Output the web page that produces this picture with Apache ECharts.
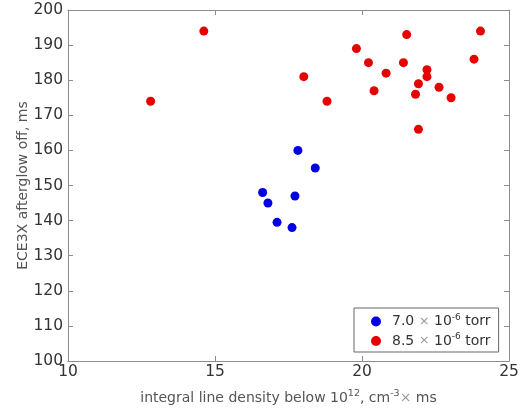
<!DOCTYPE html>
<html>
<head>
<meta charset="utf-8">
<script src="https://cdn.jsdelivr.net/npm/echarts@6/dist/echarts.min.js"></script>
<style>
html,body{margin:0;padding:0;background:#fff;}
#c{width:527px;height:411px;}
</style>
</head>
<body>
<div id="c"></div>
<script>
// Data
const seriesNames = ['7.0 × 10-6 torr', '8.5 × 10-6 torr'];
const blueX = [17.82, 18.41, 16.62, 16.80, 17.72, 17.11, 17.62];
const blueY = [160, 155, 148, 145, 147, 139.5, 138];
const redX = [12.81, 14.62, 18.02, 18.81, 19.81, 20.22, 20.41, 20.82, 21.41, 21.52, 21.82, 21.92, 21.92, 22.21, 22.21, 22.62, 23.03, 23.81, 24.03];
const redY = [174, 194, 181, 174, 189, 185, 177, 182, 185, 193, 176, 179, 166, 183, 181, 178, 175, 186, 194];
const xTicks = [10, 15, 20, 25];
const yTicks = [100, 110, 120, 130, 140, 150, 160, 170, 180, 190, 200];

const font = 'DejaVu Sans';
const axisCol = '#8c8c8c';
const labelCol = '#333333';

function pairs(xs, ys) { return xs.map((x, i) => [x, ys[i]]); }

const legendText = {
  '7.0 × 10-6 torr': '{p|}{n|7.0 }{t|×}{n| 10}{s|-6}{n| torr}',
  '8.5 × 10-6 torr': '{p|}{n|8.5 }{t|×}{n| 10}{s|-6}{n| torr}'
};

const chart = echarts.init(document.getElementById('c'), null, {renderer: 'canvas'});
const baseX = {
  type: 'value', min: xTicks[0], max: xTicks[xTicks.length - 1], interval: 5,
  axisLine: {show: true, onZero: false, lineStyle: {color: axisCol, width: 1}},
  axisTick: {show: true, inside: true, length: 5, lineStyle: {color: axisCol}},
  splitLine: {show: false}
};
const baseY = {
  type: 'value', min: yTicks[0], max: yTicks[yTicks.length - 1], interval: 10,
  axisLine: {show: true, onZero: false, lineStyle: {color: axisCol, width: 1}},
  axisTick: {show: true, inside: true, length: 5, lineStyle: {color: axisCol}},
  splitLine: {show: false}
};
chart.setOption({
  animation: false,
  backgroundColor: '#fff',
  grid: {left: 68, right: 18, top: 10, bottom: 50},
  legend: {
    left: 354, top: 308,
    orient: 'vertical',
    selectedMode: false,
    icon: 'circle',
    itemWidth: 10, itemHeight: 10, itemGap: 4,
    padding: [5, 8, 4, 17],
    borderColor: '#666', borderWidth: 1,
    formatter: name => legendText[name],
    textStyle: {
      fontFamily: font, color: labelCol,
      rich: {
        p: {width: 6},
        n: {fontFamily: font, fontSize: 14, color: labelCol},
        t: {fontFamily: font, fontSize: 13, color: '#999'},
        s: {fontFamily: font, fontSize: 9, color: labelCol, verticalAlign: 'top', padding: [0,0,8,0]}
      }
    },
    data: seriesNames
  },
  xAxis: [
    Object.assign({}, baseX, {
      position: 'bottom',
      axisLabel: {show: true, fontFamily: font, fontSize: 15.5, color: labelCol, margin: 3},
      name: 'integral line density below 10{s|12}, cm{s|-3}{t|×} ms',
      nameLocation: 'middle', nameGap: 28, nameMoveOverlap: false,
      nameTextStyle: {
        fontFamily: font, fontSize: 14, color: '#555',
        rich: {
          s: {fontFamily: font, fontSize: 9.5, color: '#555', verticalAlign: 'top', padding: [0,0,9,0]},
          t: {fontFamily: font, fontSize: 14, color: '#999'}
        }
      }
    }),
    Object.assign({}, baseX, {position: 'top', axisLabel: {show: false}})
  ],
  yAxis: [
    Object.assign({}, baseY, {
      position: 'left',
      axisLabel: {show: true, fontFamily: font, fontSize: 15.5, color: labelCol, margin: 5},
      name: 'ECE3X afterglow off, ms',
      nameLocation: 'middle', nameGap: 38, nameMoveOverlap: false,
      nameTextStyle: {fontFamily: font, fontSize: 14, color: '#555'}
    }),
    Object.assign({}, baseY, {position: 'right', axisLabel: {show: false}})
  ],
  series: [
    {name: seriesNames[0], type: 'scatter', symbol: 'circle', symbolSize: 9,
     itemStyle: {color: '#0000e6', opacity: 1}, data: pairs(blueX, blueY)},
    {name: seriesNames[1], type: 'scatter', symbol: 'circle', symbolSize: 9,
     itemStyle: {color: '#e60000', opacity: 1}, data: pairs(redX, redY)}
  ]
});
</script>
</body>
</html>
